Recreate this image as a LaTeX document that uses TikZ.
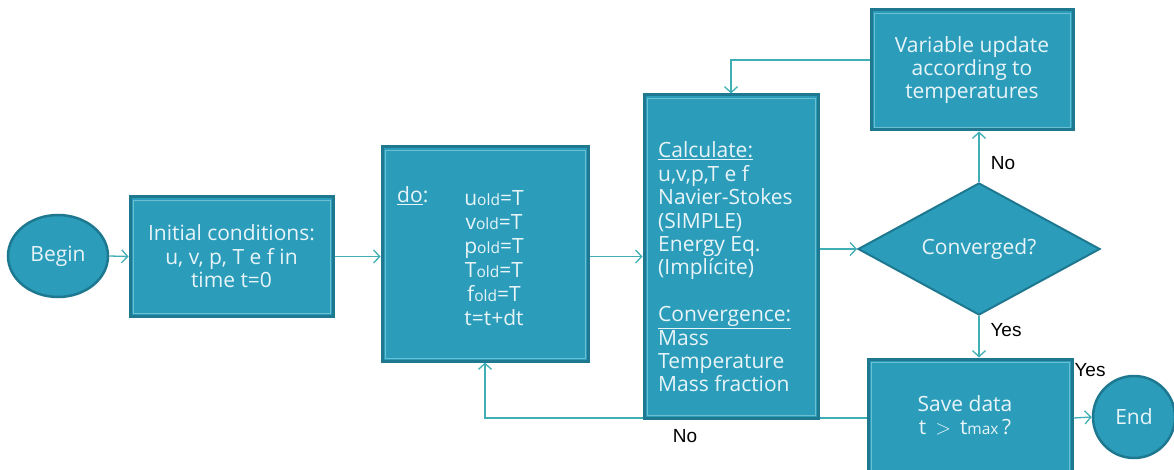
\documentclass[tikz,border=0pt]{standalone}
\usepackage{fontspec}
\setmainfont{Open Sans}
\newfontfamily\labelfont{Liberation Sans}
\usetikzlibrary{arrows.meta,shapes.geometric}

\definecolor{boxfill}{HTML}{2B9DBB}
\definecolor{boxedge}{HTML}{1D7890}
\definecolor{boxinner}{HTML}{6BBFD3}
\definecolor{conncol}{HTML}{3FAFB5}
\definecolor{boxtext}{HTML}{E8F4F8}

\newcommand{\oldsub}{{\fontsize{15.5}{15.5}\selectfont old}}

\begin{document}
\begin{tikzpicture}[x=1pt,y=-1pt,
  every node/.style={font=\fontsize{21}{23.4}\selectfont},
  procbox/.style={rectangle, fill=boxfill, draw=boxedge, line width=3pt,
    text=boxtext, align=center, inner sep=0pt},
  termnode/.style={ellipse, fill=boxfill, draw=boxedge, line width=2.5pt,
    text=boxtext, inner sep=0pt},
  decision/.style={diamond, fill=boxfill, draw=boxedge, line width=2pt,
    text=boxtext, inner sep=0pt},
  boxlabel/.style={text=boxtext, inner sep=0pt},
  conn/.style={draw=conncol, line width=1.3pt,
    -{Straight Barb[length=6pt,width=13pt]}},
  lbl/.style={text=black, inner sep=0pt, font=\labelfont\fontsize{19}{23}\selectfont}
]
\useasboundingbox (0,0) rectangle (1174,470);
\clip (0,0) rectangle (1174,470);
\fill[white] (0,0) rectangle (1174,470);

% feedback line drawn first so the boxes sit on top of it
\node[procbox, minimum width=204pt, minimum height=118pt] (save) at (970,418) {};
\node[procbox, minimum width=206pt, minimum height=214pt] (do) at (485,254) {};
\draw[conn] (save.west) -| (do.south);

% terminals
\node[termnode, minimum width=100pt, minimum height=82pt] (begin) at (58,256) {Begin};
\node[termnode, minimum width=82pt, minimum height=82pt] (end) at (1134,417) {End};

% process boxes
\node[procbox, minimum width=203pt, minimum height=119pt] (init) at (231.5,256.5)
  {Initial conditions:\\u, v, p, T e f in\\time t=0};
\node[procbox, minimum width=174pt, minimum height=323pt] (calc) at (731,256.5) {};
\node[procbox, minimum width=202pt, minimum height=120pt] (var) at (972,70)
  {Variable update\\according to\\temperatures};
\node[decision, minimum width=242pt, minimum height=132pt, aspect=1.83] (conv) at (979,249)
  {Converged?};

% redraw the save box above the feedback line and add its text
\node[procbox, minimum width=204pt, minimum height=118pt] (save2) at (970,418) {};
\node[boxlabel, align=center] (savetxt) at (965,415)
  {Save data\\t \,$>$\, t{\fontsize{15.5}{15.5}\selectfont max}\,?};

% inner light frame of each box
\foreach \n in {init,do,calc,var,save2}
  \draw[boxinner, line width=0.8pt]
    ([shift={(4.5pt,4.5pt)}]\n.south west) rectangle ([shift={(-4.5pt,-4.5pt)}]\n.north east);

% texts of the do and calculate boxes
\node[boxlabel, anchor=west] (dolbl) at (397,196) {\underline{do}:};
\node[boxlabel, align=center] (dovars) at (494,258)
  {u\oldsub=T\\[0.6pt] v\oldsub=T\\[0.6pt] p\oldsub=T\\[0.6pt] T\oldsub=T\\[0.6pt] f\oldsub=T\\[0.6pt] t=t+dt};
\node[boxlabel, align=left, anchor=west] (calctxt) at (658,267)
  {\underline{Calculate:}\\u,v,p,T e f\\Navier-Stokes\\(SIMPLE)\\Energy Eq.\\(Implícite)\\[23.4pt]
   \underline{Convergence:}\\Mass\\Temperature\\Mass fraction};

% connectors
\draw[conn] (begin.east) -- (init.west);
\draw[conn] (init.east) -- (do.west |- init.east);
\draw[conn] (do.east |- calc.west) -- (calc.west);
\draw[conn] (calc.east |- conv.west) -- (conv.west);
\draw[conn] (conv.north) -- (conv.north |- var.south);
\draw[conn] ([yshift=10pt]var.west) -| (calc.north);
\draw[conn] (conv.south) -- (conv.south |- save2.north);
\draw[conn] (save2.east) -- (end.west);

% branch labels
\node[lbl] (nolbl1) at (1003,163) {No};
\node[lbl] (yeslbl1) at (1006,330) {Yes};
\node[lbl] (yeslbl2) at (1090,370) {Yes};
\node[lbl] (nolbl2) at (685,436) {No};
\end{tikzpicture}
\end{document}
